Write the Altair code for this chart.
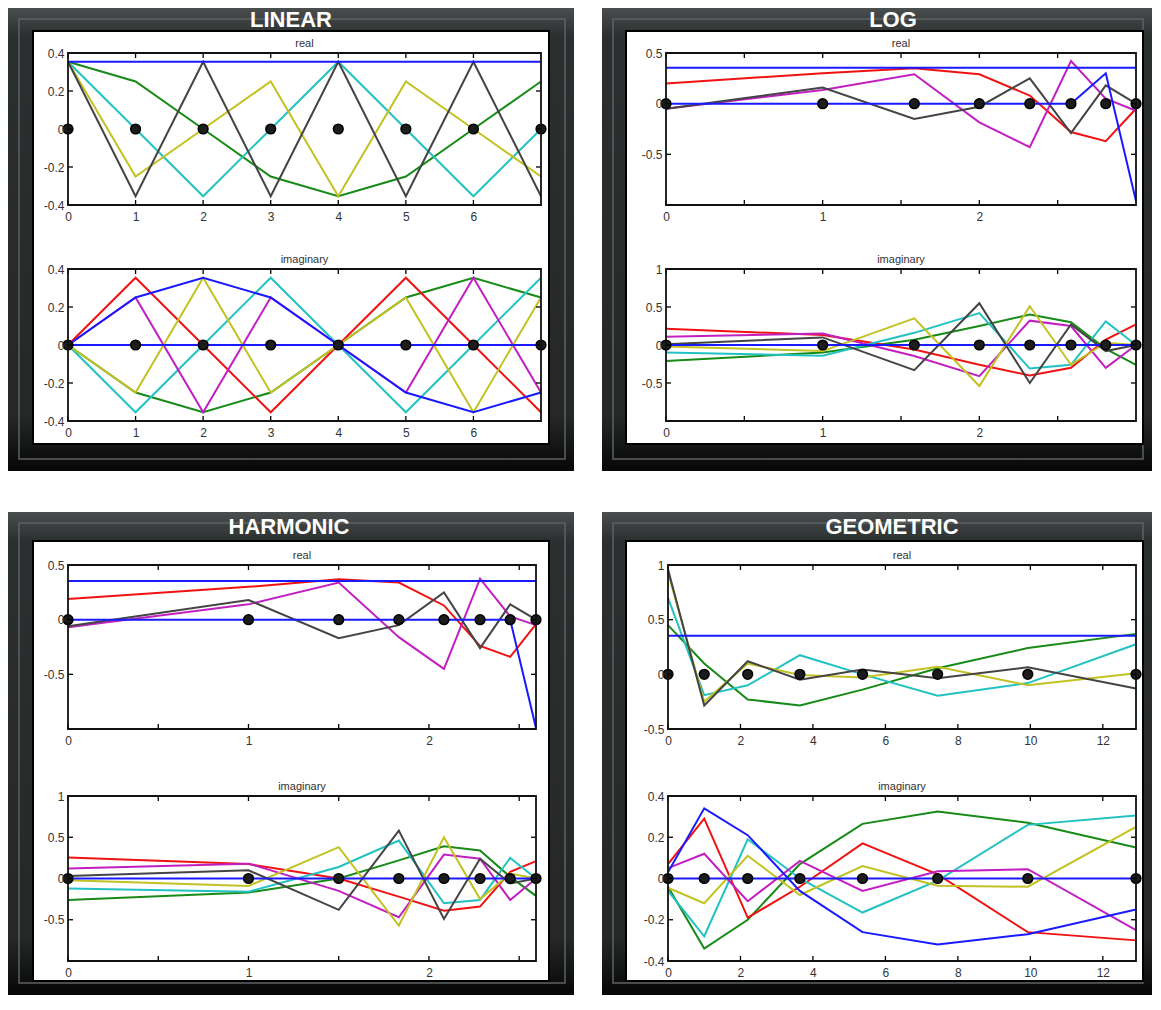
import altair as alt
import pandas as pd

FONT = "Liberation Sans"

# ---------------- sample positions ----------------
lin_x = [0, 1, 2, 3, 4, 5, 6, 7]
log_x = [0, 1, 1.585, 2, 2.322, 2.585, 2.807, 3]
har_x = [0, 1, 1.5, 1.833, 2.083, 2.283, 2.45, 2.593]
geo_x = [0, 1, 2.2, 3.64, 5.368, 7.442, 9.93, 12.916]

# ---------------- tick labels ----------------
lin_xlabels = [0, 1, 2, 3, 4, 5, 6]
log_xlabels = [0, 1, 2]
log_xticks = [0, 0.5, 1, 1.5, 2, 2.5]
geo_xlabels = [0, 2, 4, 6, 8, 10, 12]
lin_ylabels = [-0.4, -0.2, 0, 0.2, 0.4]
re_ylabels = [-0.5, 0, 0.5]
im_ylabels = [-0.5, 0, 0.5, 1]
geo_re_ylabels = [-0.5, 0, 0.5, 1]
geo_im_ylabels = [-0.4, -0.2, 0, 0.2, 0.4]

# ---------------- LINEAR ----------------
lin_re_blue = [0.354, 0.354, 0.354, 0.354, 0.354, 0.354, 0.354, 0.354]
lin_re_green = [0.354, 0.25, 0.0, -0.25, -0.354, -0.25, 0.0, 0.25]
lin_re_cyan = [0.354, 0.0, -0.354, 0.0, 0.354, 0.0, -0.354, 0.0]
lin_re_yellow = [0.354, -0.25, 0.0, 0.25, -0.354, 0.25, 0.0, -0.25]
lin_re_black = [0.354, -0.354, 0.354, -0.354, 0.354, -0.354, 0.354, -0.354]

lin_im_blue0 = [0, 0, 0, 0, 0, 0, 0, 0]
lin_im_blue = [0, 0.25, 0.354, 0.25, 0, -0.25, -0.354, -0.25]
lin_im_green = [0, -0.25, -0.354, -0.25, 0, 0.25, 0.354, 0.25]
lin_im_red = [0, 0.354, 0, -0.354, 0, 0.354, 0, -0.354]
lin_im_cyan = [0, -0.354, 0, 0.354, 0, -0.354, 0, 0.354]
lin_im_magenta = [0, 0.25, -0.354, 0.25, 0, -0.25, 0.354, -0.25]
lin_im_yellow = [0, -0.25, 0.354, -0.25, 0, 0.25, -0.354, 0.25]

# ---------------- LOG ----------------
log_re_blue0 = [0.354, 0.354, 0.354, 0.354, 0.354, 0.354, 0.354, 0.354]
log_re_blue = [0, 0, 0, 0, 0, 0, 0.30, -0.96]
log_re_red = [0.20, 0.30, 0.35, 0.29, 0.08, -0.28, -0.37, -0.05]
log_re_magenta = [-0.05, 0.135, 0.29, -0.185, -0.43, 0.42, 0.05, -0.07]
log_re_black = [-0.05, 0.16, -0.15, -0.03, 0.25, -0.29, 0.18, 0.0]

log_im_blue0 = [0, 0, 0, 0, 0, 0, 0, 0]
log_im_red = [0.215, 0.13, -0.06, -0.26, -0.40, -0.30, 0.07, 0.27]
log_im_magenta = [0.11, 0.15, -0.145, -0.41, 0.32, 0.25, -0.30, 0.0]
log_im_black = [0.01, 0.10, -0.33, 0.55, -0.50, 0.27, -0.08, 0.0]
log_im_yellow = [-0.02, -0.08, 0.35, -0.54, 0.51, -0.26, 0.03, 0.0]
log_im_cyan = [-0.10, -0.14, 0.16, 0.42, -0.31, -0.26, 0.31, 0.0]
log_im_green = [-0.21, -0.10, 0.07, 0.25, 0.40, 0.30, -0.05, -0.26]

# ---------------- HARMONIC ----------------
har_re_blue0 = [0.354, 0.354, 0.354, 0.354, 0.354, 0.354, 0.354, 0.354]
har_re_blue = [0, 0, 0, 0, 0, 0, 0, -0.99]
har_re_red = [0.19, 0.30, 0.37, 0.34, 0.13, -0.24, -0.34, -0.04]
har_re_magenta = [-0.07, 0.14, 0.34, -0.16, -0.45, 0.375, 0.03, -0.05]
har_re_black = [-0.06, 0.18, -0.17, -0.05, 0.25, -0.26, 0.14, 0.0]

har_im_blue0 = [0, 0, 0, 0, 0, 0, 0, 0]
har_im_red = [0.255, 0.175, 0.0, -0.22, -0.39, -0.34, 0.08, 0.21]
har_im_magenta = [0.12, 0.18, -0.15, -0.47, 0.29, 0.24, -0.26, 0.0]
har_im_black = [0.03, 0.10, -0.38, 0.58, -0.49, 0.24, -0.06, 0.0]
har_im_yellow = [-0.02, -0.09, 0.38, -0.57, 0.50, -0.25, 0.06, 0.0]
har_im_cyan = [-0.12, -0.16, 0.14, 0.46, -0.30, -0.26, 0.25, 0.0]
har_im_green = [-0.26, -0.17, 0.0, 0.22, 0.39, 0.34, 0.02, -0.21]

# ---------------- GEOMETRIC ----------------
geo_re_blue0 = [0.354, 0.354, 0.354, 0.354, 0.354, 0.354, 0.354, 0.354]
geo_re_black = [0.96, -0.285, 0.12, -0.05, 0.045, -0.035, 0.065, -0.13]
geo_re_yellow = [0.93, -0.25, 0.10, -0.005, -0.03, 0.07, -0.10, 0.01]
geo_re_cyan = [0.70, -0.19, -0.10, 0.175, 0.0, -0.195, -0.08, 0.275]
geo_re_green = [0.45, 0.10, -0.23, -0.285, -0.14, 0.055, 0.24, 0.37]

geo_im_blue0 = [0, 0, 0, 0, 0, 0, 0, 0]
geo_im_blue = [0.03, 0.34, 0.21, -0.06, -0.26, -0.32, -0.27, -0.15]
geo_im_red = [0.07, 0.29, -0.19, -0.04, 0.17, 0.02, -0.26, -0.30]
geo_im_magenta = [0.05, 0.12, -0.11, 0.085, -0.06, 0.035, 0.045, -0.25]
geo_im_yellow = [-0.045, -0.12, 0.11, -0.08, 0.06, -0.035, -0.04, 0.25]
geo_im_cyan = [-0.06, -0.28, 0.19, 0.0, -0.165, -0.01, 0.26, 0.305]
geo_im_green = [-0.04, -0.34, -0.20, 0.07, 0.265, 0.325, 0.27, 0.15]

zeros = [0, 0, 0, 0, 0, 0, 0, 0]

BLUE = "#1a1aff"
GREEN = "#178a17"
RED = "#f01212"
CYAN = "#22c2c2"
MAGENTA = "#c21fc2"
YELLOW = "#c2c222"
BLACK = "#444444"

one = alt.Chart(pd.DataFrame({"a": [0]}))

FRAME_GRAD = alt.Gradient(
    gradient="linear",
    stops=[
        alt.GradientStop(color="#4a4e4e", offset=0),
        alt.GradientStop(color="#2c2f2f", offset=0.06),
        alt.GradientStop(color="#262828", offset=0.88),
        alt.GradientStop(color="#060606", offset=1),
    ],
    x1=0, x2=0, y1=0, y2=1,
)


def frame_layers(origin, outer, white, title, tpos):
    ox, oy = origin
    L = []
    L.append(one.mark_rect(fill=FRAME_GRAD).encode(
        x=alt.value(outer[0] - ox), x2=alt.value(outer[2] - ox),
        y=alt.value(outer[1] - oy), y2=alt.value(outer[3] - oy)))
    L.append(one.mark_rect(filled=False, color="#5d6262", strokeWidth=1.5).encode(
        x=alt.value(outer[0] - ox + 11), x2=alt.value(outer[2] - ox - 9),
        y=alt.value(outer[1] - oy + 11), y2=alt.value(outer[3] - oy - 12)))
    L.append(one.mark_rect(fill="white", stroke="#000000", strokeWidth=2).encode(
        x=alt.value(white[0] - ox), x2=alt.value(white[2] - ox),
        y=alt.value(white[1] - oy), y2=alt.value(white[3] - oy)))
    L.append(one.mark_text(text=title, font=FONT, fontSize=22, fontWeight="bold",
                           color="white", baseline="middle", align="center").encode(
        x=alt.value(tpos[0] - ox), y=alt.value(tpos[1] - oy)))
    return L


def subplot(xs, series, xdom, ydom, xlab, xtk, ylab, w, h, title, frame=None):
    xenc = alt.X("x:Q", scale=alt.Scale(domain=xdom, nice=False, zero=False),
                 axis=alt.Axis(values=xlab, ticks=False, domain=False, grid=False,
                               labelPadding=6, labelFontSize=12, labelColor="#333333",
                               labelFont=FONT, labelFlush=False, labelOverlap=False,
                               labelExpr="'' + datum.value", title=None, zindex=1))
    yenc = alt.Y("y:Q", scale=alt.Scale(domain=ydom, nice=False, zero=False),
                 axis=alt.Axis(values=ylab, ticks=False, domain=False, grid=False,
                               labelPadding=4, labelFontSize=12, labelColor="#333333",
                               labelFont=FONT, labelOverlap=False,
                               labelExpr="'' + datum.value", title=None, zindex=1))
    layers = []
    if frame is not None:
        layers += frame_layers(**frame)
    layers.append(one.mark_text(text=title, font=FONT, fontSize=11, color="#333333",
                                baseline="bottom", align="center").encode(
        x=alt.value(w / 2), y=alt.value(-4)))
    for vals, col in series:
        df = pd.DataFrame({"x": xs, "y": vals})
        layers.append(alt.Chart(df).mark_line(color=col, strokeWidth=2).encode(x=xenc, y=yenc))
    dots = pd.DataFrame({"x": xs, "y": zeros})
    layers.append(alt.Chart(dots).mark_circle(size=95, color="#1c1c1c", opacity=1,
                                              stroke="#000000", strokeWidth=1.5).encode(x=xenc, y=yenc))
    xt = alt.Chart(pd.DataFrame({"x": xtk}))
    yt = alt.Chart(pd.DataFrame({"y": ylab}))
    layers.append(xt.mark_rule(color="black", strokeWidth=1.3).encode(x=xenc, y=alt.value(0), y2=alt.value(5)))
    layers.append(xt.mark_rule(color="black", strokeWidth=1.3).encode(x=xenc, y=alt.value(h - 5), y2=alt.value(h)))
    layers.append(yt.mark_rule(color="black", strokeWidth=1.3).encode(y=yenc, x=alt.value(0), x2=alt.value(5)))
    layers.append(yt.mark_rule(color="black", strokeWidth=1.3).encode(y=yenc, x=alt.value(w - 5), x2=alt.value(w)))
    layers.append(one.mark_rect(filled=False, color="#111111", strokeWidth=1.8).encode(
        x=alt.value(0), x2=alt.value(w), y=alt.value(0), y2=alt.value(h)))
    return alt.layer(*layers).properties(width=w, height=h)


# ---------------- build panels ----------------
lin_re = subplot(lin_x, [(lin_re_green, GREEN), (lin_re_cyan, CYAN), (lin_re_yellow, YELLOW),
                         (lin_re_black, BLACK), (lin_re_blue, BLUE)],
                 [0, 7], [-0.4, 0.4], lin_xlabels, lin_xlabels, lin_ylabels, 473, 152, "real",
                 frame=dict(origin=(68, 53), outer=(8, 8, 574, 471), white=(33, 31, 549, 444),
                            title="LINEAR", tpos=(291, 20)))
lin_im = subplot(lin_x, [(lin_im_green, GREEN), (lin_im_red, RED), (lin_im_cyan, CYAN),
                         (lin_im_magenta, MAGENTA), (lin_im_yellow, YELLOW), (lin_im_blue, BLUE),
                         (lin_im_blue0, BLUE)],
                 [0, 7], [-0.4, 0.4], lin_xlabels, lin_xlabels, lin_ylabels, 473, 152, "imaginary")

log_re = subplot(log_x, [(log_re_red, RED), (log_re_magenta, MAGENTA), (log_re_black, BLACK),
                         (log_re_blue, BLUE), (log_re_blue0, BLUE)],
                 [0, 3], [-1.0, 0.5], log_xlabels, log_xticks, re_ylabels, 470, 152, "real",
                 frame=dict(origin=(666, 53), outer=(602, 8, 1152, 471), white=(626, 31, 1143, 444),
                            title="LOG", tpos=(893, 20)))
log_im = subplot(log_x, [(log_im_green, GREEN), (log_im_red, RED), (log_im_cyan, CYAN),
                         (log_im_magenta, MAGENTA), (log_im_yellow, YELLOW), (log_im_black, BLACK),
                         (log_im_blue0, BLUE)],
                 [0, 3], [-1.0, 1.0], log_xlabels, log_xticks, im_ylabels, 470, 152, "imaginary")

har_re = subplot(har_x, [(har_re_red, RED), (har_re_magenta, MAGENTA), (har_re_black, BLACK),
                         (har_re_blue, BLUE), (har_re_blue0, BLUE)],
                 [0, 2.593], [-1.0, 0.5], log_xlabels, log_xticks, re_ylabels, 468, 164, "real",
                 frame=dict(origin=(68, 565), outer=(8, 512, 574, 995), white=(33, 541, 549, 981),
                            title="HARMONIC", tpos=(289, 527)))
har_im = subplot(har_x, [(har_im_green, GREEN), (har_im_red, RED), (har_im_cyan, CYAN),
                         (har_im_magenta, MAGENTA), (har_im_yellow, YELLOW), (har_im_black, BLACK),
                         (har_im_blue0, BLUE)],
                 [0, 2.593], [-1.0, 1.0], log_xlabels, log_xticks, im_ylabels, 468, 165, "imaginary")

geo_re = subplot(geo_x, [(geo_re_green, GREEN), (geo_re_cyan, CYAN), (geo_re_yellow, YELLOW),
                         (geo_re_black, BLACK), (geo_re_blue0, BLUE)],
                 [0, 12.916], [-0.5, 1.0], geo_xlabels, geo_xlabels, geo_re_ylabels, 468, 164, "real",
                 frame=dict(origin=(668, 565), outer=(602, 512, 1152, 995), white=(626, 541, 1143, 981),
                            title="GEOMETRIC", tpos=(892, 527)))
geo_im = subplot(geo_x, [(geo_im_green, GREEN), (geo_im_red, RED), (geo_im_cyan, CYAN),
                         (geo_im_magenta, MAGENTA), (geo_im_yellow, YELLOW), (geo_im_blue, BLUE),
                         (geo_im_blue0, BLUE)],
                 [0, 12.916], [-0.4, 0.4], geo_xlabels, geo_xlabels, geo_im_ylabels, 468, 165, "imaginary")

# panels: real/imag stacked by plot-area size only; panels arranged by their frame extents
lin = alt.vconcat(lin_re, lin_im, spacing=64, bounds="flush")
log = alt.vconcat(log_re, log_im, spacing=64, bounds="flush")
har = alt.vconcat(har_re, har_im, spacing=67, bounds="flush")
geo = alt.vconcat(geo_re, geo_im, spacing=67, bounds="flush")

row1 = alt.hconcat(lin, log, spacing=28)
row2 = alt.hconcat(har, geo, spacing=28)

chart = alt.vconcat(row1, row2, spacing=41).properties(
    padding=0, background="white"
).configure_view(stroke=None)

chart.save("out.html", embed_options={"renderer": "svg", "actions": False})
